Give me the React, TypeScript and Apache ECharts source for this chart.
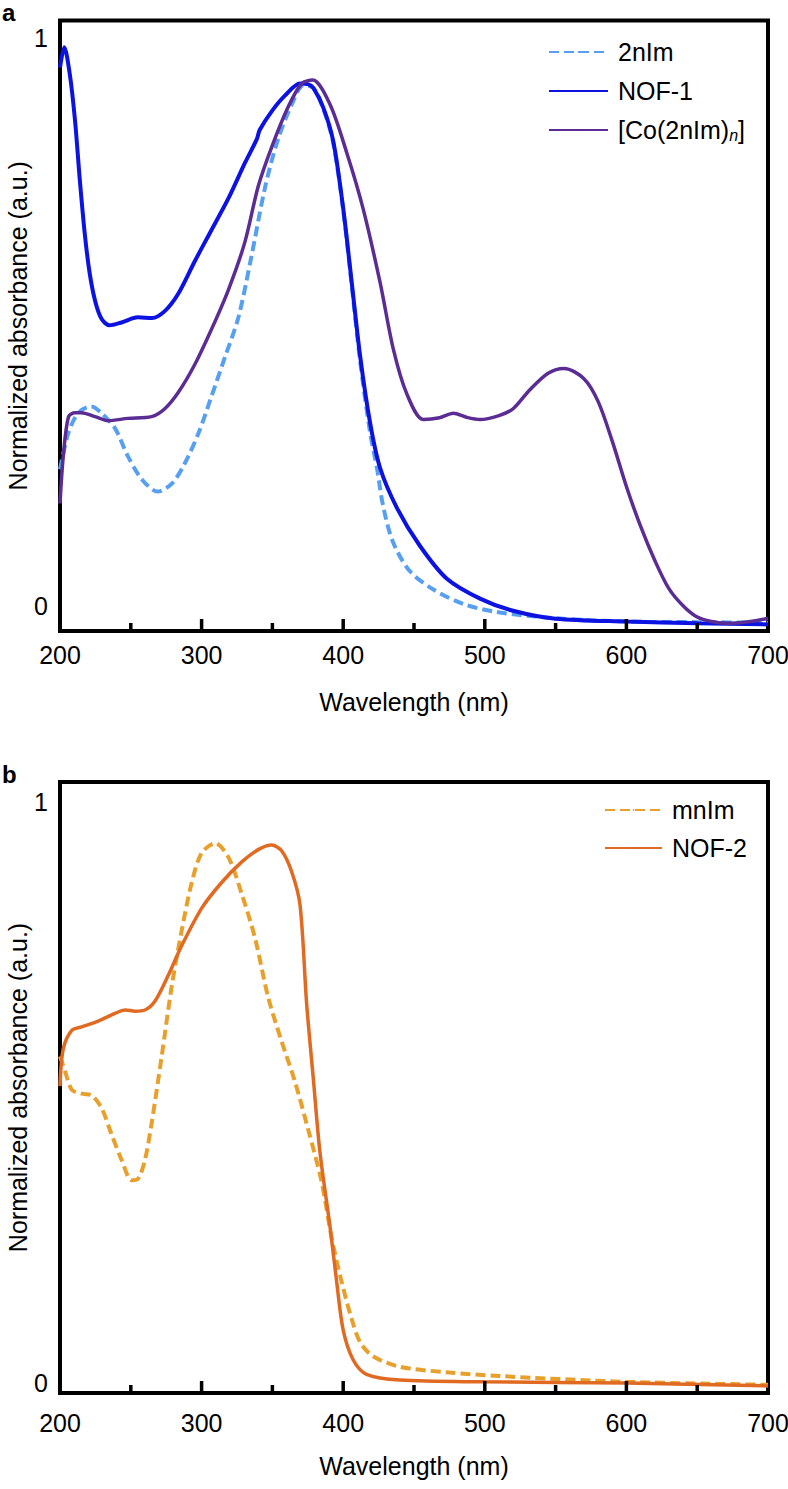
import React, { useEffect, useRef } from 'react';
import * as echarts from 'echarts';

const FONT = '"Liberation Sans", Arial, Helvetica, sans-serif';

// ---------- Panel a ----------
const nIm2Wl = [200, 206, 213, 222, 229, 239, 248, 258, 269, 279, 288, 298, 307, 316.5, 326, 335, 345, 354, 364, 372, 379, 386, 393, 400, 406, 412, 419, 424, 428, 435, 447, 464, 485, 508, 550, 600, 650, 700];
const nIm2Abs = [0.24, 0.305, 0.34, 0.351, 0.34, 0.312, 0.263, 0.222, 0.201, 0.215, 0.25, 0.305, 0.369, 0.438, 0.508, 0.613, 0.739, 0.822, 0.885, 0.917, 0.912, 0.875, 0.815, 0.697, 0.565, 0.43, 0.305, 0.24, 0.178, 0.113, 0.061, 0.028, 0.003, -0.011, -0.022, -0.028, -0.029, -0.03];

const nof1Wl = [200, 203, 207, 210.6, 214, 217.5, 221, 225, 229.4, 235, 243.5, 255, 265, 274, 283.6, 295, 307, 319, 330.6, 339, 341, 349.5, 359, 369.5, 375, 379, 386, 393, 400, 406, 412, 419, 426, 438, 454, 473, 497, 520, 550, 600, 650, 700];
const nof1Abs = [0.948, 0.984, 0.935, 0.855, 0.75, 0.655, 0.585, 0.535, 0.505, 0.494, 0.499, 0.508, 0.507, 0.519, 0.55, 0.606, 0.662, 0.718, 0.78, 0.822, 0.838, 0.871, 0.899, 0.92, 0.919, 0.912, 0.877, 0.818, 0.7, 0.57, 0.439, 0.322, 0.243, 0.172, 0.106, 0.048, 0.012, -0.009, -0.023, -0.028, -0.031, -0.033];

const coWl = [200, 202.3, 206, 210.6, 215, 224.7, 234, 248, 264.7, 274, 283.6, 295, 307, 319, 330.6, 340, 349.5, 361, 370.7, 378.5, 390.7, 402.5, 414, 426, 435.4, 444.8, 456.6, 468, 477.8, 487, 496.6, 510, 520, 532, 545, 556, 570, 580, 590, 600, 610, 620, 630, 640, 650, 660, 670, 680, 690, 700];
const coAbs = [0.18, 0.263, 0.333, 0.34, 0.34, 0.333, 0.326, 0.33, 0.333, 0.347, 0.376, 0.424, 0.487, 0.557, 0.641, 0.739, 0.808, 0.878, 0.92, 0.926, 0.883, 0.798, 0.7, 0.57, 0.452, 0.374, 0.328, 0.331, 0.339, 0.332, 0.328, 0.335, 0.347, 0.381, 0.41, 0.418, 0.4, 0.36, 0.29, 0.21, 0.14, 0.08, 0.03, 0.0, -0.02, -0.028, -0.031, -0.03, -0.027, -0.022];

// ---------- Panel b ----------
const mnImWl = [200, 203.5, 208.3, 215.3, 222.4, 229.4, 236.4, 243.5, 250.6, 255.3, 260, 264.7, 271.8, 278.9, 285.9, 293, 300, 309.5, 318.9, 328.3, 337.7, 347, 356.5, 366, 375.4, 384.8, 391.8, 398.9, 406, 412, 421, 440, 475, 510, 600, 700];
const mnImAbs = [0.562, 0.537, 0.505, 0.498, 0.495, 0.473, 0.428, 0.384, 0.349, 0.352, 0.384, 0.447, 0.562, 0.683, 0.778, 0.861, 0.912, 0.929, 0.905, 0.842, 0.766, 0.664, 0.588, 0.518, 0.435, 0.346, 0.25, 0.174, 0.11, 0.07, 0.046, 0.028, 0.018, 0.012, 0.002, -0.003];

const nof2Wl = [200, 202.3, 208.3, 215.3, 227, 238.8, 246, 253, 260, 267, 276.5, 286, 300, 314, 328, 340, 349.5, 356.5, 363.6, 369.5, 374.2, 378.9, 383.6, 390.7, 395.4, 400, 407, 416.5, 440, 500, 600, 700];
const nof2Abs = [0.511, 0.575, 0.607, 0.613, 0.623, 0.636, 0.642, 0.64, 0.642, 0.657, 0.702, 0.753, 0.817, 0.861, 0.896, 0.918, 0.926, 0.916, 0.88, 0.823, 0.652, 0.524, 0.397, 0.269, 0.174, 0.091, 0.04, 0.015, 0.005, 0.002, 0.0, -0.005];

// axis settings
const xMin = 200;
const xMax = 700;
const xStep = 100;
const majorTicks = [300, 400, 500, 600];
const minorTicks = [250, 350, 450, 550, 650];
const yLabelValues = [0, 1];
const yRangeA = [-0.0446, 1.031];
const yRangeB = [-0.0172, 1.0344];

const CO_NAME = '[Co(2nIm)n]';

const zip = (xs: number[], ys: number[]) => xs.map((x, i) => [x, ys[i]]);

export default function App() {
  const ref = useRef<HTMLDivElement>(null);

  useEffect(() => {
    if (!ref.current) return;
    const chart = echarts.init(ref.current, null, { renderer: 'svg' });

    const gridHeightA = 610.5;
    const gridHeightB = 611;

    const xAxisFor = (i: number) => ({
      type: 'value',
      gridIndex: i,
      position: 'bottom',
      min: xMin,
      max: xMax,
      interval: xStep,
      name: 'Wavelength (nm)',
      nameLocation: 'middle',
      nameGap: i === 0 ? 58 : 60,
      nameMoveOverlap: false,
      nameTextStyle: { fontSize: 25, color: '#000', fontFamily: FONT },
      axisLine: { show: false, onZero: false },
      axisTick: { show: false },
      axisLabel: { fontSize: 25, color: '#000', margin: i === 0 ? 11 : 17, fontFamily: FONT },
      splitLine: { show: false },
    });

    const yAxisFor = (i: number, range: number[]) => ({
      type: 'value',
      gridIndex: i,
      position: 'left',
      min: range[0],
      max: range[1],
      name: 'Normalized absorbance (a.u.)',
      nameLocation: 'middle',
      nameRotate: 90,
      nameGap: 30,
      nameMoveOverlap: false,
      nameTextStyle: { fontSize: 25, color: '#000', fontFamily: FONT },
      axisLine: { show: false, onZero: false },
      axisTick: { show: false },
      splitLine: { show: false },
      axisLabel: {
        customValues: yLabelValues,
        fontSize: 25,
        color: '#000',
        margin: 12,
        fontFamily: FONT,
        formatter: (v: number) => String(Math.round(v)),
      },
    });

    const lineSeries = (name: string, xs: number[], ys: number[], idx: number, color: string, width: number, dashed: boolean) => ({
      type: 'line',
      name,
      xAxisIndex: idx,
      yAxisIndex: idx,
      data: zip(xs, ys),
      symbol: 'none',
      showSymbol: false,
      smooth: 0.3,
      itemStyle: { color },
      lineStyle: { color, width, type: dashed ? [10, 5] : 'solid' },
    });

    // inward tick marks: short vertical segments rising from the axis minimum
    const tickSeries = (gi: number, range: number[], gridH: number) =>
      [...majorTicks.map((t) => [t, 12]), ...minorTicks.map((t) => [t, 8])].map(([t, len]) => ({
        type: 'line',
        xAxisIndex: gi,
        yAxisIndex: gi,
        silent: true,
        symbol: 'none',
        showSymbol: false,
        clip: false,
        z: 10,
        data: [
          [t, range[0]],
          [t, range[0] + (len * (range[1] - range[0])) / gridH],
        ],
        itemStyle: { color: '#000' },
        lineStyle: { color: '#000', width: 3.5, cap: 'butt' },
      }));

    const legendText = {
      fontSize: 25,
      color: '#000',
      fontFamily: FONT,
      lineHeight: 26,
      padding: [0, 0, 0, 5],
      rich: {
        sub: { fontSize: 16, fontStyle: 'italic', fontFamily: FONT, color: '#000', verticalAlign: 'bottom', lineHeight: 14 },
      },
    };

    chart.setOption({
      animation: false,
      backgroundColor: '#fff',
      textStyle: { fontFamily: FONT },
      grid: [
        { left: 60, top: 20.5, width: 708, height: gridHeightA, show: true, borderColor: '#000', borderWidth: 4, backgroundColor: 'transparent', outerBoundsMode: 'none', containLabel: false },
        { left: 60, top: 782, width: 708, height: gridHeightB, show: true, borderColor: '#000', borderWidth: 4, backgroundColor: 'transparent', outerBoundsMode: 'none', containLabel: false },
      ],
      xAxis: [xAxisFor(0), xAxisFor(1)],
      yAxis: [yAxisFor(0, yRangeA), yAxisFor(1, yRangeB)],
      legend: [
        {
          data: ['2nIm', 'NOF-1', CO_NAME],
          orient: 'vertical',
          left: 548,
          top: 39,
          padding: 0,
          itemWidth: 59,
          itemHeight: 2,
          itemGap: 13,
          selectedMode: false,
          textStyle: legendText,
          formatter: (n: string) => (n === CO_NAME ? '[Co(2nIm){sub|n}]' : n),
        },
        {
          data: ['mnIm', 'NOF-2'],
          orient: 'vertical',
          left: 604,
          top: 797,
          padding: 0,
          itemWidth: 57,
          itemHeight: 2,
          itemGap: 12,
          selectedMode: false,
          textStyle: legendText,
        },
      ],
      graphic: [
        { type: 'text', left: 2, top: 0, style: { text: 'a', fontSize: 24, fontWeight: 'bold', fontFamily: FONT, fill: '#000' } },
        { type: 'text', left: 2, top: 762, style: { text: 'b', fontSize: 24, fontWeight: 'bold', fontFamily: FONT, fill: '#000' } },
      ],
      series: [
        lineSeries('2nIm', nIm2Wl, nIm2Abs, 0, '#579ff0', 4, true),
        lineSeries('NOF-1', nof1Wl, nof1Abs, 0, '#0c12e2', 4, false),
        lineSeries(CO_NAME, coWl, coAbs, 0, '#5b2c94', 3.5, false),
        lineSeries('mnIm', mnImWl, mnImAbs, 1, '#e8a02c', 4, true),
        lineSeries('NOF-2', nof2Wl, nof2Abs, 1, '#e06a22', 3.5, false),
        ...tickSeries(0, yRangeA, gridHeightA),
        ...tickSeries(1, yRangeB, gridHeightB),
      ],
    });

    return () => chart.dispose();
  }, []);

  return <div ref={ref} style={{ position: 'absolute', left: 0, top: 0, width: 788, height: 1489 }} />;
}
